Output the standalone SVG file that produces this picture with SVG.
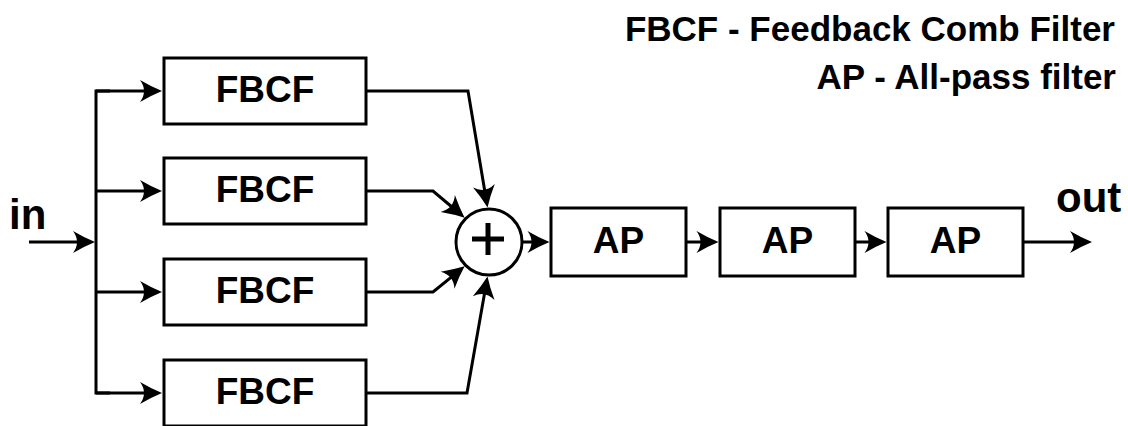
<svg xmlns="http://www.w3.org/2000/svg" width="1128" height="426" viewBox="0 0 1128 426">
<style>
.box{fill:#fff;stroke:#000;stroke-width:3}
.lbl{font-family:"Liberation Sans",Arial,sans-serif;font-weight:bold;font-size:37px;text-anchor:middle;fill:#000}
.big{font-family:"Liberation Sans",Arial,sans-serif;font-weight:bold;font-size:42px;fill:#000}
.title{font-family:"Liberation Sans",Arial,sans-serif;font-weight:bold;font-size:35px;text-anchor:end;fill:#000}
.wire{fill:none;stroke:#000;stroke-width:3;stroke-linejoin:miter}
.arr{marker-end:url(#ah)}
</style>
<defs>
<marker id="ah" markerUnits="userSpaceOnUse" markerWidth="1" markerHeight="1" refX="0" refY="0" orient="auto" overflow="visible">
<path d="M8,0 Q-3,-4.5 -14,-11 Q-6,0 -14,11 Q-3,4.5 8,0 Z" fill="#000"/>
</marker>
</defs>
<rect width="1128" height="426" fill="#fff"/>
<text class="title" x="1115" y="41">FBCF - Feedback Comb Filter</text>
<text class="title" x="1116" y="89">AP - All-pass filter</text>
<text class="big" x="9" y="229">in</text>
<text class="big" x="1056" y="212">out</text>
<g id="connectors">
<path class="wire arr" d="M29,242 H87"/>
<path class="wire" d="M110,91 H96 V393 H110"/>
<path class="wire arr" d="M96,91 H154"/>
<path class="wire arr" d="M96,191 H154"/>
<path class="wire arr" d="M96,292 H154"/>
<path class="wire arr" d="M96,393 H154"/>
<path class="wire arr" d="M366,91 H468 L486.2,199.6"/>
<path class="wire arr" d="M366,191 H433 L458.5,212.5"/>
<path class="wire arr" d="M366,292 H433 L458.4,271.4"/>
<path class="wire arr" d="M366,393 H467 L486.1,284.4"/>
<path class="wire arr" d="M523,242 H541.5"/>
<path class="wire arr" d="M687,242 H710.5"/>
<path class="wire arr" d="M856,242 H878.5"/>
<path class="wire arr" d="M1024,242 H1084"/>
</g>
<g id="fbcf1"><rect class="box" x="164" y="58" width="202" height="66"/><text class="lbl" x="265" y="102">FBCF</text></g>
<g id="fbcf2"><rect class="box" x="164" y="158" width="202" height="66"/><text class="lbl" x="265" y="202">FBCF</text></g>
<g id="fbcf3"><rect class="box" x="164" y="259" width="202" height="66"/><text class="lbl" x="265" y="303">FBCF</text></g>
<g id="fbcf4"><rect class="box" x="164" y="360" width="202" height="66"/><text class="lbl" x="265" y="404">FBCF</text></g>
<g id="sum"><circle cx="489" cy="242" r="33" fill="#fff" stroke="#000" stroke-width="3"/><path d="M472,239 H504 M488,223 V255" stroke="#000" stroke-width="5" fill="none"/></g>
<g id="ap1"><rect class="box" x="551" y="208" width="135" height="68"/><text class="lbl" x="618.5" y="253">AP</text></g>
<g id="ap2"><rect class="box" x="720" y="208" width="135" height="68"/><text class="lbl" x="787.5" y="253">AP</text></g>
<g id="ap3"><rect class="box" x="888" y="208" width="135" height="68"/><text class="lbl" x="955.5" y="253">AP</text></g>
</svg>
